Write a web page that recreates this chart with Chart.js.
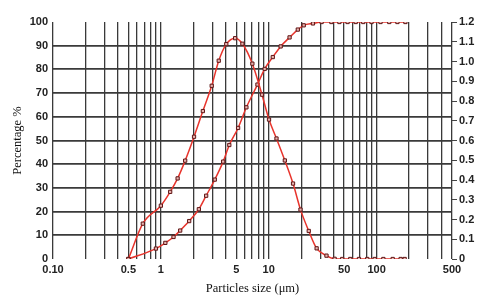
<!DOCTYPE html>
<html>
<head>
<meta charset="utf-8">
<script src="https://cdn.jsdelivr.net/npm/chart.js@4/dist/chart.umd.min.js"></script>
<style>
html,body{margin:0;padding:0;background:#fff;}
#wrap{width:480px;height:303px;}
</style>
</head>
<body>
<div id="wrap"><canvas id="c" width="480" height="303"></canvas></div>
<script>
// Particle sizes (µm) and values
const freqSizes = [0.5, 0.68, 1.0, 1.22, 1.43, 1.68, 2.03, 2.45, 2.96, 3.44, 4.04, 4.88, 5.7, 7.05, 8.66, 10.06, 11.8, 14.1, 16.8, 19.7, 23.5, 27.8, 34.3, 40.8, 48, 57, 68.6, 81.9, 96, 115.5, 141, 167, 182];
const freqValues = [0, 0.179, 0.27, 0.34, 0.408, 0.498, 0.619, 0.749, 0.877, 1.004, 1.088, 1.118, 1.09, 0.989, 0.832, 0.706, 0.61, 0.499, 0.382, 0.25, 0.142, 0.054, 0.017, 0.001, 0, 0, 0, 0, 0, 0, 0, 0, 0];
const cumSizes = [0.5, 0.9, 1.1, 1.31, 1.51, 1.83, 2.25, 2.63, 3.16, 3.78, 4.31, 5.2, 6.21, 7.86, 9.17, 10.9, 12.9, 15.6, 18.6, 21.1, 25.7, 30.9, 38.1, 45.2, 53.8, 64, 75.2, 89.7, 108.7, 131, 156, 185];
const cumValues = [0, 4.4, 6.8, 9.3, 12, 16, 21, 26.7, 33.5, 41.1, 48.1, 55.3, 64, 73.6, 80.2, 85.2, 89.7, 93.5, 96.8, 98.6, 99.4, 100, 100, 100, 100, 100, 100, 100, 100, 100, 100, 100];
const xLabelValues = [0.1, 0.5, 1, 5, 10, 50, 100, 500];
const xLabelTexts = ['0.10', '0.5', '1', '5', '10', '50', '100', '500'];
const xTitle = 'Particles size (\u03bcm)';
const yTitle = 'Percentage %';

const gridValues = [];
[0.1, 1, 10, 100].forEach(d => { for (let k = 1; k <= 9; k++) { const v = +(d * k).toPrecision(3); if (v <= 500) gridValues.push(v); } });

const tickFont = {family: '"Liberation Sans", Arial, sans-serif', size: 11, weight: 'bold'};
const titleFont = {family: '"Liberation Serif", "Times New Roman", serif', size: 12.5};

const lineColor = '#e8342c';
const markBorder = '#5e1414';
const markFill = '#eab4b0';

const bg = {id: 'bg', beforeDraw(c) { const x = c.ctx; x.save(); x.fillStyle = '#fff'; x.fillRect(0, 0, c.width, c.height); x.restore(); }};

new Chart(document.getElementById('c'), {
  type: 'line',
  data: {
    datasets: [
      {data: freqSizes.map((s, i) => ({x: s, y: freqValues[i]})), yAxisID: 'y1'},
      {data: cumSizes.map((s, i) => ({x: s, y: cumValues[i]})), yAxisID: 'y'}
    ]
  },
  options: {
    responsive: false,
    animation: false,
    devicePixelRatio: 1,
    layout: {padding: {top: 22, left: 0, right: 0, bottom: 0}},
    plugins: {legend: {display: false}, tooltip: {enabled: false}},
    elements: {
      line: {borderColor: lineColor, borderWidth: 1.5, cubicInterpolationMode: 'monotone'},
      point: {pointStyle: 'rect', radius: 2.3, borderWidth: 1, borderColor: markBorder, backgroundColor: markFill}
    },
    scales: {
      x: {
        type: 'logarithmic', min: 0.1, max: 500,
        afterBuildTicks(s) { s.ticks = gridValues.map(v => ({value: v})); },
        afterFit(s) { s.height = 44; },
        ticks: {
          autoSkip: false, maxRotation: 0, padding: 4, color: '#222', font: tickFont,
          callback(v) { const i = xLabelValues.findIndex(t => Math.abs(t - v) < 1e-6); return i >= 0 ? xLabelTexts[i] : ''; }
        },
        grid: {color: '#3a3a3a', lineWidth: 1.3, drawTicks: false},
        border: {display: false},
        title: {display: true, text: xTitle, color: '#111', font: titleFont, padding: {top: 0, bottom: 7}}
      },
      y: {
        position: 'left', min: 0, max: 100,
        afterFit(s) { s.width = 53; },
        ticks: {stepSize: 10, padding: 5, color: '#222', font: tickFont},
        grid: {color: ctx => (ctx.tick && (ctx.tick.value === 0 || ctx.tick.value === 100)) ? 'rgba(0,0,0,0)' : '#3a3a3a', lineWidth: 1.8, drawTicks: false},
        border: {display: false},
        title: {display: true, text: yTitle, color: '#111', font: titleFont, padding: {top: 10, bottom: 0}}
      },
      y1: {
        position: 'right', min: 0, max: 1.2,
        afterFit(s) { s.width = 28; },
        ticks: {stepSize: 0.1, padding: 2, color: '#222', font: tickFont,
          callback(v) { return Math.abs(v) < 1e-9 ? '0' : v.toFixed(1); }},
        grid: {drawOnChartArea: false, drawTicks: true, tickLength: 5, color: '#444', lineWidth: 1},
        border: {display: false}
      }
    }
  },
  plugins: [bg]
});
</script>
</body>
</html>
